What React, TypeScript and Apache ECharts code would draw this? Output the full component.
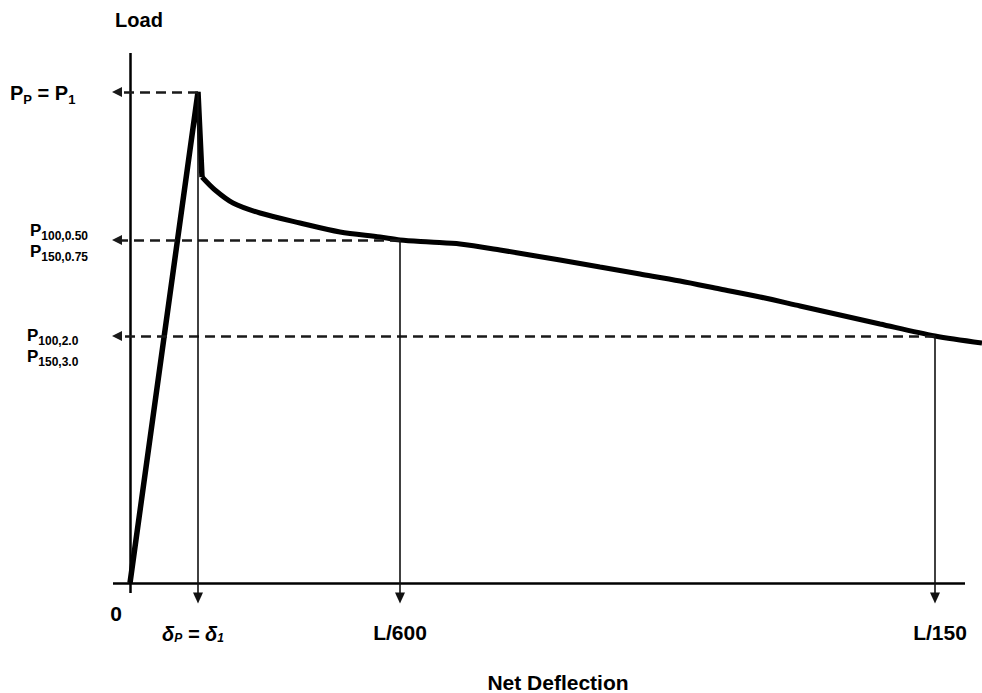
import React, { useEffect, useRef } from 'react';
import * as echarts from 'echarts';

// Schematic load–deflection curve (arbitrary units)
const riseDeflection = [0, 6.8, 7.2];
const riseLoad = [0, 49.1, 40.6];
const decayDeflection = [7.2, 8.5, 10.3, 13.0, 17.0, 21.0, 25.0, 27.0, 30.0, 33.0, 37.0, 43.0, 47.0, 51.0, 55.0, 59.0, 63.0, 67.0, 71.0, 75.0, 80.5, 85.2];
const decayLoad = [40.6, 39.3, 38.0, 37.0, 36.0, 35.1, 34.6, 34.3, 34.1, 33.9, 33.3, 32.3, 31.6, 30.9, 30.2, 29.4, 28.6, 27.7, 26.8, 25.9, 24.7, 24.0];

// Reference points: peak, L/600, L/150
const refDeflection = [6.8, 27.0, 80.5];
const refLoad = [49.1, 34.3, 24.7];

// Tick labels on the deflection axis
const xTickValues = [0, 6.8, 27.0, 80.5];
const xTickLabels = ['{n|0}', '{d|δ}{ds|P}{d| = δ}{ds|1}', '{n|L/600}', '{n|L/150}'];

// Load labels (main P + subscript)
const yTickLoad = [49.1, 34.3, 24.7];
const yTickLabels = [
  ['{p|P}{s|P}{p| = P}{s|1}'],
  ['{p|P}{s|100,0.50}', '{p|P}{s|150,0.75}'],
  ['{p|P}{s|100,2.0}', '{p|P}{s|150,3.0}'],
];

const xMin = -1.7, xMax = 85.2, yMin = -1.6, yMax = 53.0;
const xAxisEnd = 83.5;
const yAxisStart = -1.0;
const arrowLeftX = -1.3;
const arrowDownY = -1.5;

const FONT = 'Liberation Sans, Arial, Helvetica, sans-serif';

export default function App() {
  const ref = useRef<HTMLDivElement>(null);
  useEffect(() => {
    if (!ref.current) return;
    const chart = echarts.init(ref.current, undefined, { renderer: 'svg' });
    const zip = (a: number[], b: number[]) => a.map((v, i) => [v, b[i]]);
    const hiddenAxis = {
      type: 'value',
      axisLine: { show: false }, axisTick: { show: false }, axisLabel: { show: false }, splitLine: { show: false },
    };
    chart.setOption({
      animation: false,
      backgroundColor: '#fff',
      grid: { left: 113, right: 0, top: 53, bottom: 94 },
      xAxis: { ...hiddenAxis, min: xMin, max: xMax },
      yAxis: { ...hiddenAxis, min: yMin, max: yMax },
      series: [
        {
          type: 'line', data: [], silent: true,
          markLine: {
            silent: true, animation: false, label: { show: false },
            symbol: ['none', 'none'],
            lineStyle: { color: '#000', width: 2.5, type: 'solid' },
            data: [
              [{ coord: [xMin, 0] }, { coord: [xAxisEnd, 0] }],
              [{ coord: [0, yAxisStart] }, { coord: [0, yMax] }],
            ],
          },
        },
        {
          type: 'line', data: [], silent: true,
          markLine: {
            silent: true, animation: false, label: { show: false },
            symbol: ['none', 'triangle'], symbolSize: [10, 10],
            lineStyle: { color: '#1a1a1a', width: 2.5, type: [10, 6] },
            data: refDeflection.map((x, i) => [
              { coord: [x, refLoad[i]] },
              { coord: [arrowLeftX, refLoad[i]] },
            ]),
          },
        },
        {
          type: 'line', data: [], silent: true,
          markLine: {
            silent: true, animation: false, label: { show: false },
            symbol: ['none', 'triangle'], symbolSize: [10, 11],
            lineStyle: { color: '#111', width: 1.6, type: 'solid' },
            data: refDeflection.map((x, i) => [
              { coord: [x, refLoad[i]] },
              { coord: [x, arrowDownY] },
            ]),
          },
        },
        {
          type: 'line', data: zip(riseDeflection, riseLoad), showSymbol: false, symbol: 'none',
          lineStyle: { color: '#000', width: 5.5, join: 'miter' },
        },
        {
          type: 'line', data: zip(decayDeflection, decayLoad), showSymbol: false, symbol: 'none',
          smooth: 0.3, lineStyle: { color: '#000', width: 5 },
        },
      ],
    });

    const px = (x: number, y: number) => chart.convertToPixel({ gridIndex: 0 }, [x, y]) as number[];
    const base = { fontFamily: FONT, fontWeight: 'bold', fill: '#000' };
    const richX = {
      n: { ...base, fontSize: 21 },
      d: { ...base, fontSize: 20, fontStyle: 'italic' },
      ds: { ...base, fontSize: 12, fontStyle: 'italic', verticalAlign: 'bottom', lineHeight: 12 },
    };
    const richY = (big: number, small: number) => ({
      p: { ...base, fontSize: big, lineHeight: big + 1, padding: [0, 0, 5, 0] },
      s: { ...base, fontSize: small, lineHeight: small, verticalAlign: 'bottom' },
    });
    const graphics: any[] = [];
    const xOffsets = [-14, -5, 0, 5];
    const xDy = [30, 51, 49, 49];
    const [, yb] = px(0, 0);
    xTickValues.forEach((v, i) => {
      const [x0] = px(v, 0);
      graphics.push({
        type: 'text', x: x0 + xOffsets[i], y: yb + xDy[i],
        style: { text: xTickLabels[i], rich: richX, align: 'center', verticalAlign: 'middle', textAlign: 'center', textVerticalAlign: 'middle' },
      });
    });
    const yLeft = [10, 30, 27];
    const yFirstDy = [3, -7, 2];
    const yLineGap = 21;
    yTickLoad.forEach((v, i) => {
      const [, y0] = px(0, v);
      const lines = yTickLabels[i];
      lines.forEach((t, j) => {
        graphics.push({
          type: 'text', x: yLeft[i], y: y0 + yFirstDy[i] + j * yLineGap,
          style: { text: t, rich: i === 0 ? richY(20, 13) : richY(17, 12), align: 'left', verticalAlign: 'middle', textAlign: 'left', textVerticalAlign: 'middle' },
        });
      });
    });
    const [oxTop, oyTop] = px(0, yMax);
    graphics.push({
      type: 'text', x: oxTop + 9, y: oyTop - 33,
      style: { text: 'Load', font: `bold 20px ${FONT}`, fill: '#000', align: 'center', verticalAlign: 'middle', textAlign: 'center', textVerticalAlign: 'middle' },
    });
    graphics.push({
      type: 'text', x: 558, y: 682,
      style: { text: 'Net Deflection', font: `bold 21px ${FONT}`, fill: '#000', align: 'center', verticalAlign: 'middle', textAlign: 'center', textVerticalAlign: 'middle' },
    });
    chart.setOption({ graphic: graphics });
    return () => chart.dispose();
  }, []);
  return <div ref={ref} style={{ position: 'fixed', left: 0, top: 0, width: 982, height: 693 }} />;
}
